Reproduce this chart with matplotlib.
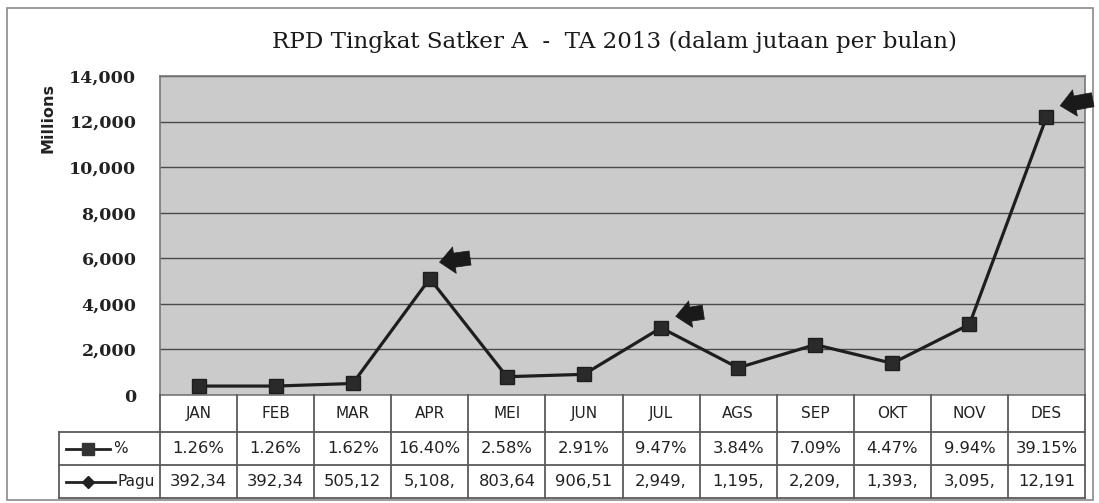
import matplotlib
matplotlib.use("Agg")
import matplotlib.pyplot as plt
from matplotlib.transforms import offset_copy
from matplotlib.patches import FancyArrowPatch, Rectangle
from matplotlib.ticker import FuncFormatter

# ---- data ----
months = ["JAN", "FEB", "MAR", "APR", "MEI", "JUN", "JUL", "AGS", "SEP", "OKT", "NOV", "DES"]
pagu = [392.34, 392.34, 505.12, 5108, 803.64, 906.51, 2949, 1195, 2209, 1393, 3095, 12191]
pct_labels = ["1.26%", "1.26%", "1.62%", "16.40%", "2.58%", "2.91%", "9.47%", "3.84%",
              "7.09%", "4.47%", "9.94%", "39.15%"]
pagu_labels = ["392,34", "392,34", "505,12", "5,108,", "803,64", "906,51", "2,949,",
               "1,195,", "2,209,", "1,393,", "3,095,", "12,191"]
yticks = [0, 2000, 4000, 6000, 8000, 10000, 12000, 14000]
highlight = ["APR", "JUL", "DES"]
title = "RPD Tingkat Satker A  -  TA 2013 (dalam jutaan per bulan)"

W, H = 1099, 503
fig = plt.figure(figsize=(W / 100, H / 100), dpi=100)

def px(x0, y0, x1, y1):
    return [x0 / W, 1 - y1 / H, (x1 - x0) / W, (y1 - y0) / H]

# outer border
fig.patches.append(Rectangle((7 / W, 1 - 500 / H), 1086 / W, 492 / H, transform=fig.transFigure,
                             fill=False, ec="#8a8a8a", lw=1.2))

# ---- main plot ----
ax = fig.add_axes(px(160, 76, 1085, 395))
ax.set_facecolor("#cbcbcb")
x = list(range(len(months)))
ax.plot(x, pagu, color="#1e1e1e", lw=2.3, marker="s", markersize=10, markerfacecolor="#2a2a2a",
        markeredgecolor="#1e1e1e", zorder=3, clip_on=False)
ax.set_xlim(-0.5, len(months) - 0.5)
ax.set_ylim(0, 14000)
ax.set_yticks(yticks)
ax.yaxis.set_major_formatter(FuncFormatter(lambda v, p: f"{int(v):,}"))
ax.tick_params(axis="y", length=0, pad=17, labelsize=12.5)
for lab in ax.get_yticklabels():
    lab.set_fontfamily("DejaVu Serif")
    lab.set_fontweight("bold")
    lab.set_color("#222222")
ax.set_xticks([])
ax.grid(axis="y", color="#4a4a4a", lw=1.0)
ax.set_axisbelow(True)
for s in ax.spines.values():
    s.set_color("#777777")
    s.set_linewidth(1.2)

# arrows
offs = {"APR": ((7, 16), (43, 21)), "JUL": ((12, 11), (45, 16)), "DES": ((11, 11), (49, 18))}
for m in highlight:
    i = months.index(m)
    (hx, hy), (tx_, ty_) = offs[m]
    head_t = offset_copy(ax.transData, fig=fig, x=hx, y=hy, units="dots")
    tail_t = offset_copy(ax.transData, fig=fig, x=tx_, y=ty_, units="dots")
    hxy = fig.transFigure.inverted().transform(head_t.transform((i, pagu[i])))
    txy = fig.transFigure.inverted().transform(tail_t.transform((i, pagu[i])))
    arr = FancyArrowPatch(txy, hxy, transform=fig.transFigure,
                          arrowstyle="simple,head_length=0.9,head_width=1.6,tail_width=0.85",
                          mutation_scale=12, fc="#1a1a1a", ec="#1a1a1a", lw=0.5)
    fig.patches.append(arr)

fig.text(615 / W, 1 - 42 / H, title, ha="center", va="center", fontsize=16.6,
         family="DejaVu Serif", color="#1a1a1a")
fig.text(48 / W, 1 - 118 / H, "Millions", rotation=90, ha="center", va="center",
         fontsize=11.5, fontweight="bold", color="#222222")

# ---- table ----
colw = (1085 - 160) / 12.0
labw = (160 - 59) / colw
tx = fig.add_axes(px(59, 395, 1085, 498))
tx.set_xlim(-0.5 - labw, 11.5)
rows = [0, 37, 70, 103]
tx.set_ylim(rows[-1], 0)
tx.axis("off")
lc = "#5a5a5a"
lw = 1.3
L = -0.5 - labw
for r in rows[1:]:
    tx.plot([L, 11.5], [r, r], color=lc, lw=lw, clip_on=False)
tx.plot([L, L], [rows[1], rows[3]], color=lc, lw=lw, clip_on=False)
for k in range(13):
    tx.plot([k - 0.5, k - 0.5], [rows[0], rows[3]], color=lc, lw=lw, clip_on=False)
tfs = 11.8
for i in x:
    tx.text(i, (rows[0] + rows[1]) / 2, months[i], ha="center", va="center", fontsize=11, color="#222")
    tx.text(i, (rows[1] + rows[2]) / 2, pct_labels[i], ha="center", va="center", fontsize=tfs, color="#222")
    tx.text(i, (rows[2] + rows[3]) / 2, pagu_labels[i], ha="center", va="center", fontsize=tfs, color="#222")
# legend keys
y1 = (rows[1] + rows[2]) / 2
y2 = (rows[2] + rows[3]) / 2
a = L + 7 / colw
tx.plot([a, a + 44 / colw], [y1, y1], color="#222", lw=2)
tx.plot([a + 22 / colw], [y1], marker="s", markersize=9, color="#333")
tx.text(a + 47 / colw, y1, "%", ha="left", va="center", fontsize=11, color="#222")
tx.plot([a, a + 49 / colw], [y2, y2], color="#222", lw=2)
tx.plot([a + 22 / colw], [y2], marker="D", markersize=6, color="#222")
tx.text(a + 52 / colw, y2, "Pagu", ha="left", va="center", fontsize=11, color="#222")

fig.savefig("out.png", dpi=100)
